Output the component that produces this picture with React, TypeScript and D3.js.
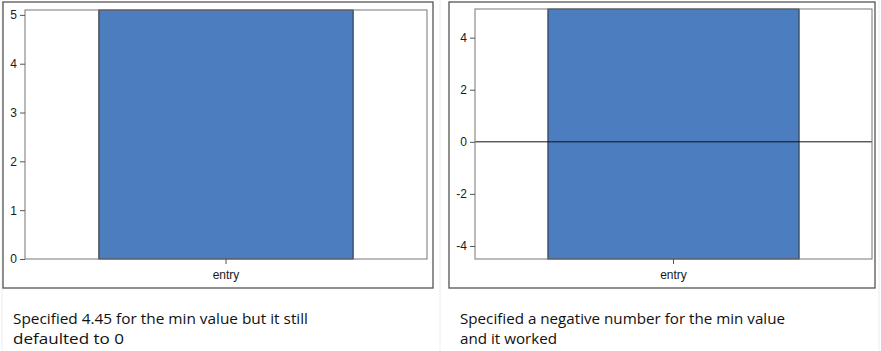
import { useRef, useEffect } from "react";
import * as d3 from "d3";

// data
const categories = ["entry"];
const values = [5.1];
const leftMin = 0; // asked for 4.45, axis still starts at 0
const rightMin = -4.5;
const leftTicks = [0, 1, 2, 3, 4, 5];
const rightTicks = [-4, -2, 0, 2, 4];
const leftCaption = ["Specified 4.45 for the min value but it still", "defaulted to 0"];
const rightCaption = ["Specified a negative number for the min value", "and it worked"];

const W = 881;
const H = 351;
const barColor = "#4b7dbf";

const App = () => {
  const svgRef = useRef(null);

  function drawPanel(svg, opts) {
    const { box, plot, min, ticks, caption, capX, capLens } = opts;

    // outer frame of the picture
    svg
      .append("rect")
      .attr("x", box.x)
      .attr("y", box.y)
      .attr("width", box.w)
      .attr("height", box.h)
      .attr("fill", "#fff")
      .attr("stroke", "#555")
      .attr("stroke-width", 1.3);

    const xScale = d3
      .scaleBand()
      .domain(categories)
      .range([plot.x, plot.x + plot.w])
      .padding(0.225);

    const yScale = d3
      .scaleLinear()
      .domain([min, d3.max(values)])
      .range([plot.y + plot.h, plot.y]);

    // bars start from the axis minimum
    svg
      .append("g")
      .selectAll("rect")
      .data(values)
      .join("rect")
      .attr("x", (d, i) => xScale(categories[i]))
      .attr("y", (d) => yScale(d))
      .attr("width", xScale.bandwidth())
      .attr("height", (d) => yScale(min) - yScale(d))
      .attr("fill", barColor)
      .attr("stroke", "#2b2b2b")
      .attr("stroke-width", 1);

    // zero line
    if (min < 0) {
      svg
        .append("line")
        .attr("x1", plot.x)
        .attr("x2", plot.x + plot.w)
        .attr("y1", yScale(0))
        .attr("y2", yScale(0))
        .attr("stroke", "#111")
        .attr("stroke-width", 1);
    }

    // plot area frame
    svg
      .append("rect")
      .attr("x", plot.x)
      .attr("y", plot.y)
      .attr("width", plot.w)
      .attr("height", plot.h)
      .attr("fill", "none")
      .attr("stroke", "#777")
      .attr("stroke-width", 1);

    const yAxis = d3.axisLeft(yScale).tickValues(ticks).tickSize(5).tickPadding(3).tickFormat(d3.format("d"));
    const xAxis = d3.axisBottom(xScale).tickSize(5).tickPadding(6);

    const gy = svg.append("g").attr("transform", `translate(${plot.x}, 0)`).call(yAxis);
    const gx = svg.append("g").attr("transform", `translate(0, ${plot.y + plot.h})`).call(xAxis);

    [gx, gy].forEach((g) => {
      g.select(".domain").remove();
      g.selectAll("line").attr("stroke", "#555");
      g.selectAll("text")
        .attr("fill", "#1a1a1a")
        .style("font-family", "Liberation Sans, Arial, sans-serif")
        .style("font-size", "12px");
    });
    gy.selectAll("text").text((d) => (d < 0 ? "-" + Math.abs(d) : d));

    // caption under the picture
    caption.forEach((line, i) => {
      svg
        .append("text")
        .attr("x", capX)
        .attr("y", 324 + i * 19.5)
        .attr("textLength", capLens[i])
        .attr("lengthAdjust", "spacingAndGlyphs")
        .attr("fill", "#111")
        .style("font-family", "Open Sans, sans-serif")
        .style("font-size", "15px")
        .text(line);
    });
  }

  useEffect(() => {
    const svg = d3.select(svgRef.current);
    svg.selectAll("*").remove();

    // faint table cell borders
    svg
      .append("g")
      .selectAll("line")
      .data([
        [2, 0, 2, H],
        [440, 0, 440, H],
        [879, 0, 879, H],
      ])
      .join("line")
      .attr("x1", (d) => d[0])
      .attr("y1", (d) => d[1])
      .attr("x2", (d) => d[2])
      .attr("y2", (d) => d[3])
      .attr("stroke", "#ececec");

    drawPanel(svg, {
      box: { x: 3, y: 2, w: 430, h: 286 },
      plot: { x: 25, y: 10, w: 402, h: 249 },
      min: leftMin,
      ticks: leftTicks,
      caption: leftCaption,
      capX: 13,
      capLens: [295, 111],
    });

    drawPanel(svg, {
      box: { x: 449, y: 2, w: 426, h: 286 },
      plot: { x: 475, y: 9, w: 397, h: 250 },
      min: rightMin,
      ticks: rightTicks,
      caption: rightCaption,
      capX: 460,
      capLens: [325, 97],
    });
  }, []);

  return (
    <svg
      ref={svgRef}
      width={W}
      height={H}
      style={{ position: "absolute", left: 0, top: 0, background: "#fff" }}
    ></svg>
  );
};

export default App;
